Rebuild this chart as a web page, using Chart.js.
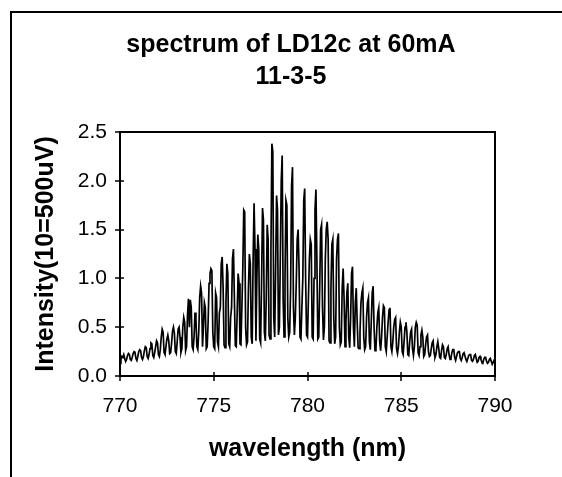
<!DOCTYPE html>
<html>
<head>
<meta charset="utf-8">
<script src="https://cdn.jsdelivr.net/npm/chart.js@4.4.1/dist/chart.umd.min.js"></script>
<style>
  html, body { margin: 0; padding: 0; background: #fff; }
  #wrap { width: 562px; height: 477px; }
</style>
</head>
<body>
<div id="wrap"><canvas id="spectrum" width="562" height="477"></canvas></div>
<script>
// wavelength grid: 770.00 .. 790.00 nm, one reading every 0.05 nm
const wavelengthStart = 770;
const wavelengthStep = 0.05;

// intensity, one row per nm (20 readings each)
const intensity = [
  0.13, 0.17, 0.20, 0.19, 0.22, 0.18, 0.15, 0.17, 0.21, 0.23, 0.22, 0.17, 0.16, 0.19, 0.23, 0.25, 0.24, 0.18, 0.16, 0.20,
  0.25, 0.27, 0.26, 0.19, 0.17, 0.20, 0.26, 0.30, 0.29, 0.20, 0.18, 0.22, 0.28, 0.34, 0.33, 0.21, 0.19, 0.24, 0.30, 0.36,
  0.34, 0.22, 0.20, 0.27, 0.40, 0.48, 0.45, 0.24, 0.22, 0.30, 0.38, 0.42, 0.36, 0.23, 0.24, 0.33, 0.46, 0.50, 0.44, 0.25,
  0.23, 0.35, 0.48, 0.50, 0.40, 0.24, 0.28, 0.50, 0.60, 0.55, 0.26, 0.30, 0.62, 0.79, 0.50, 0.78, 0.70, 0.30, 0.27, 0.40,
  0.65, 0.58, 0.30, 0.27, 0.45, 0.80, 0.92, 0.85, 0.30, 0.50, 0.75, 0.70, 0.28, 0.30, 0.55, 0.95, 1.05, 1.10, 1.08, 0.45,
  0.30, 0.28, 0.85, 0.80, 0.35, 0.30, 0.65, 0.70, 1.15, 1.22, 0.90, 0.32, 0.29, 0.75, 1.15, 1.05, 0.33, 0.30, 0.60, 0.70,
  1.20, 1.30, 0.80, 0.31, 0.30, 0.65, 1.05, 0.95, 0.33, 0.32, 0.70, 1.10, 1.70, 1.68, 0.50, 0.32, 0.35, 0.90, 1.25, 1.15,
  0.40, 0.33, 1.20, 1.77, 1.30, 0.36, 1.00, 1.45, 1.30, 0.38, 0.34, 0.95, 1.72, 1.60, 0.45, 0.36, 0.80, 1.55, 1.40, 0.42,
  0.38, 1.30, 2.38, 2.30, 0.60, 0.40, 1.10, 1.85, 1.70, 0.42, 0.50, 1.20, 2.00, 2.26, 0.80, 0.40, 1.00, 1.80, 1.75, 0.60,
  0.40, 0.45, 0.90, 1.95, 2.14, 0.70, 0.42, 0.60, 0.95, 1.40, 1.50, 1.10, 0.40, 0.38, 0.70, 1.00, 1.80, 1.92, 1.00, 0.42,
  0.40, 0.80, 1.20, 1.40, 1.35, 0.40, 0.38, 1.00, 1.70, 1.91, 1.20, 0.38, 0.40, 0.90, 1.50, 1.55, 0.70, 0.37, 0.50, 1.20,
  1.50, 1.58, 1.40, 0.36, 0.34, 0.90, 1.35, 1.40, 0.60, 0.33, 0.40, 1.20, 1.40, 1.46, 0.50, 0.32, 0.35, 0.90, 1.10, 0.80,
  0.30, 0.55, 0.85, 0.95, 0.40, 0.29, 0.60, 1.05, 1.12, 0.50, 0.30, 0.75, 0.90, 0.55, 0.29, 0.28, 0.45, 0.75, 0.85, 0.90,
  0.40, 0.27, 0.30, 0.60, 0.75, 0.80, 0.35, 0.27, 0.55, 0.85, 0.92, 0.50, 0.26, 0.28, 0.50, 0.65, 0.70, 0.35, 0.26, 0.40,
  0.60, 0.72, 0.70, 0.30, 0.25, 0.40, 0.55, 0.68, 0.70, 0.30, 0.25, 0.35, 0.50, 0.58, 0.60, 0.28, 0.23, 0.30, 0.45, 0.55,
  0.50, 0.25, 0.22, 0.35, 0.50, 0.55, 0.45, 0.22, 0.21, 0.35, 0.45, 0.48, 0.28, 0.21, 0.30, 0.50, 0.55, 0.52, 0.24, 0.21,
  0.30, 0.42, 0.47, 0.40, 0.20, 0.22, 0.32, 0.40, 0.42, 0.25, 0.20, 0.21, 0.28, 0.34, 0.36, 0.24, 0.19, 0.22, 0.30, 0.35,
  0.28, 0.19, 0.18, 0.26, 0.32, 0.30, 0.19, 0.18, 0.22, 0.28, 0.30, 0.22, 0.17, 0.18, 0.24, 0.27, 0.27, 0.19, 0.16, 0.20,
  0.24, 0.25, 0.25, 0.18, 0.16, 0.19, 0.23, 0.24, 0.24, 0.17, 0.15, 0.18, 0.21, 0.22, 0.22, 0.16, 0.15, 0.17, 0.21, 0.22,
  0.18, 0.14, 0.15, 0.19, 0.20, 0.17, 0.14, 0.13, 0.17, 0.19, 0.19, 0.15, 0.13, 0.14, 0.17, 0.18, 0.15, 0.12, 0.14, 0.16,
  0.12
];

const xTicks = [770, 775, 780, 785, 790];
const yTicks = [0, 0.5, 1.0, 1.5, 2.0, 2.5];

const titleLines = ['spectrum of LD12c at 60mA', '11-3-5'];
const xTitle = 'wavelength (nm)';
const yTitle = 'Intensity(10=500uV)';

const points = intensity.map((v, i) => ({ x: wavelengthStart + i * wavelengthStep, y: v }));

const FONT = "'Liberation Sans', Arial, sans-serif";

// page frame, plot box and cross tick marks like the old spreadsheet chart
const framePlugin = {
  id: 'frame',
  beforeDraw(chart) {
    const ctx = chart.ctx;
    ctx.save();
    ctx.fillStyle = '#fff';
    ctx.fillRect(0, 0, chart.width, chart.height);
    ctx.restore();
  },
  afterDraw(chart) {
    const ctx = chart.ctx;
    const a = chart.chartArea;
    const xs = chart.scales.x, ys = chart.scales.y;
    ctx.save();
    ctx.strokeStyle = '#000';
    ctx.lineWidth = 2;
    ctx.beginPath();
    ctx.moveTo(11, 477);
    ctx.lineTo(11, 12);
    ctx.lineTo(562, 12);
    ctx.stroke();
    ctx.strokeRect(a.left, a.top, a.right - a.left, a.bottom - a.top);
    ctx.lineWidth = 1.5;
    ctx.beginPath();
    xTicks.forEach(v => {
      const px = Math.round(xs.getPixelForValue(v));
      ctx.moveTo(px, a.bottom - 4);
      ctx.lineTo(px, a.bottom + 5);
    });
    yTicks.forEach(v => {
      const py = Math.round(ys.getPixelForValue(v));
      ctx.moveTo(a.left - 5, py);
      ctx.lineTo(a.left + 4, py);
    });
    ctx.stroke();
    ctx.restore();
  }
};

new Chart(document.getElementById('spectrum'), {
  type: 'line',
  data: {
    datasets: [{
      data: points,
      borderColor: '#000',
      borderWidth: 1.7,
      pointRadius: 0,
      tension: 0,
      fill: false
    }]
  },
  options: {
    responsive: false,
    animation: false,
    layout: { padding: { left: 20, right: 0, top: 0, bottom: 0 } },
    plugins: {
      legend: { display: false },
      tooltip: { enabled: false },
      title: {
        display: true,
        text: titleLines,
        color: '#000',
        font: { family: FONT, size: 25, weight: 'bold', lineHeight: 1.28 },
        padding: { top: 29, bottom: 39 }
      }
    },
    scales: {
      x: {
        type: 'linear',
        min: 770,
        max: 790,
        afterBuildTicks(scale) { scale.ticks = xTicks.map(v => ({ value: v })); },
        afterFit(scale) { scale.height = 101; },
        grid: { display: false, drawTicks: false },
        border: { display: true, color: '#000', width: 2 },
        ticks: { color: '#000', font: { family: FONT, size: 21 }, padding: 18 },
        title: {
          display: true,
          text: xTitle,
          color: '#000',
          font: { family: FONT, size: 25, weight: 'bold' },
          padding: { top: 8, bottom: 13 }
        }
      },
      y: {
        min: 0,
        max: 2.5,
        afterBuildTicks(scale) { scale.ticks = yTicks.map(v => ({ value: v })); },
        afterFit(scale) { scale.width = 100; },
        grid: { display: false, drawTicks: false },
        border: { display: true, color: '#000', width: 2 },
        ticks: {
          color: '#000',
          font: { family: FONT, size: 21 },
          padding: 13,
          callback: v => v.toFixed(1)
        },
        title: {
          display: true,
          text: yTitle,
          color: '#000',
          font: { family: FONT, size: 25, weight: 'bold' },
          padding: { top: 11, bottom: 0 }
        }
      },
      yRight: {
        position: 'right',
        display: true,
        afterFit(scale) { scale.width = 67; },
        grid: { display: false, drawTicks: false },
        border: { display: false },
        ticks: { display: false }
      }
    }
  },
  plugins: [framePlugin]
});
</script>
</body>
</html>
